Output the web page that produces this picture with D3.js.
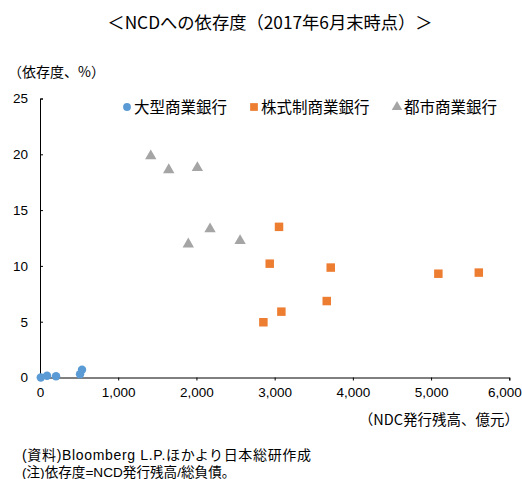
<!DOCTYPE html>
<html>
<head>
<meta charset="utf-8">
<script src="https://cdn.jsdelivr.net/npm/d3@7"></script>
<style>
  html, body { margin: 0; padding: 0; background: #fff; }
  svg { display: block; }
  text { font-family: "Liberation Sans", "Noto Sans CJK JP", sans-serif; fill: #000; }
  .cjk { font-family: "Noto Sans CJK JP", "Liberation Sans", sans-serif; }
</style>
</head>
<body>
<svg id="chart" width="522" height="479"></svg>
<script>
// NCD outstanding (100 million yuan) vs dependence on NCD (% of liabilities)
const seriesNames = ["大型商業銀行", "株式制商業銀行", "都市商業銀行"];
const largeBanksX = [10, 90, 205, 512, 537];
const largeBanksY = [0.0, 0.15, 0.12, 0.3, 0.69];
const jointStockX = [3056, 2937, 3717, 3666, 3086, 2856, 5093, 5610];
const jointStockY = [13.5, 10.2, 9.85, 6.85, 5.9, 4.95, 9.3, 9.4];
const cityBanksX = [1416, 1646, 2012, 1896, 2174, 2558];
const cityBanksY = [19.85, 18.6, 18.8, 11.95, 13.3, 12.25];
const xTicks = [0, 1000, 2000, 3000, 4000, 5000, 6000];
const yTicks = [0, 5, 10, 15, 20, 25];
const colors = ["#5B9BD5", "#ED7D31", "#A5A5A5"];

const svg = d3.select("#chart");
const x = d3.scaleLinear().domain([0, 6000]).range([40, 509.3]);
const y = d3.scaleLinear().domain([0, 25]).range([377.5, 98.5]);

// title
svg.append("text").attr("class", "cjk")
  .attr("x", 270).attr("y", 29).attr("text-anchor", "middle")
  .style("font-size", "17.3px")
  .text("＜NCDへの依存度（2017年6月末時点）＞");

// axis unit labels
svg.append("text").attr("class", "cjk")
  .attr("x", 8).attr("y", 77).style("font-size", "14px")
  .text("（依存度、%）");
svg.append("text").attr("class", "cjk")
  .attr("x", 519).attr("y", 425).attr("text-anchor", "end").style("font-size", "14.5px")
  .text("（NDC発行残高、億元）");

// axes
const xAxis = d3.axisBottom(x).tickValues(xTicks).tickSize(3).tickPadding(7)
  .tickFormat(d3.format(","));
const gx = svg.append("g").attr("transform", `translate(0,${y(0)})`).call(xAxis);
gx.selectAll("text").style("font-size", "13.5px").attr("fill", "#000");
gx.select(".domain").attr("stroke", "#000");
gx.selectAll(".tick line").attr("stroke", "#000");
// keep the last label inside the frame
gx.selectAll(".tick text").filter(d => d === 6000)
  .attr("text-anchor", "end").attr("dx", "12");

const yAxis = d3.axisLeft(y).tickValues(yTicks).tickSize(-3).tickPadding(12);
const gy = svg.append("g").attr("transform", `translate(${x(0)},0)`).call(yAxis);
gy.selectAll("text").style("font-size", "13.5px").attr("fill", "#000");
gy.select(".domain").attr("stroke", "#000");
gy.selectAll(".tick line").attr("stroke", "#000");

// markers
const sym = [d3.symbolCircle, d3.symbolSquare, d3.symbolTriangle];
const sizes = [56, 72, 56];
const sets = [
  d3.zip(largeBanksX, largeBanksY),
  d3.zip(jointStockX, jointStockY),
  d3.zip(cityBanksX, cityBanksY)
];
sets.forEach((pts, i) => {
  svg.append("g").selectAll("path").data(pts).join("path")
    .attr("transform", d => `translate(${x(d[0])},${y(d[1])})`)
    .attr("d", d3.symbol().type(sym[i]).size(sizes[i]))
    .attr("fill", colors[i]);
});

// legend
const legendX = [127, 254, 397];
const legendY = 107;
seriesNames.forEach((name, i) => {
  svg.append("path")
    .attr("transform", `translate(${legendX[i]},${legendY})`)
    .attr("d", d3.symbol().type(sym[i]).size(i === 1 ? 60 : 48))
    .attr("fill", colors[i]);
  svg.append("text").attr("class", "cjk")
    .attr("x", legendX[i] + 7).attr("y", legendY + 5.5)
    .style("font-size", "15.5px")
    .text(name);
});

// notes
svg.append("text")
  .attr("x", 22).attr("y", 460).style("font-size", "14px")
  .attr("textLength", 289).attr("lengthAdjust", "spacing")
  .text("(資料)Bloomberg L.P.ほかより日本総研作成");
svg.append("text")
  .attr("x", 22).attr("y", 477).style("font-size", "13.6px")
  .text("(注)依存度=NCD発行残高/総負債。");
</script>
</body>
</html>
